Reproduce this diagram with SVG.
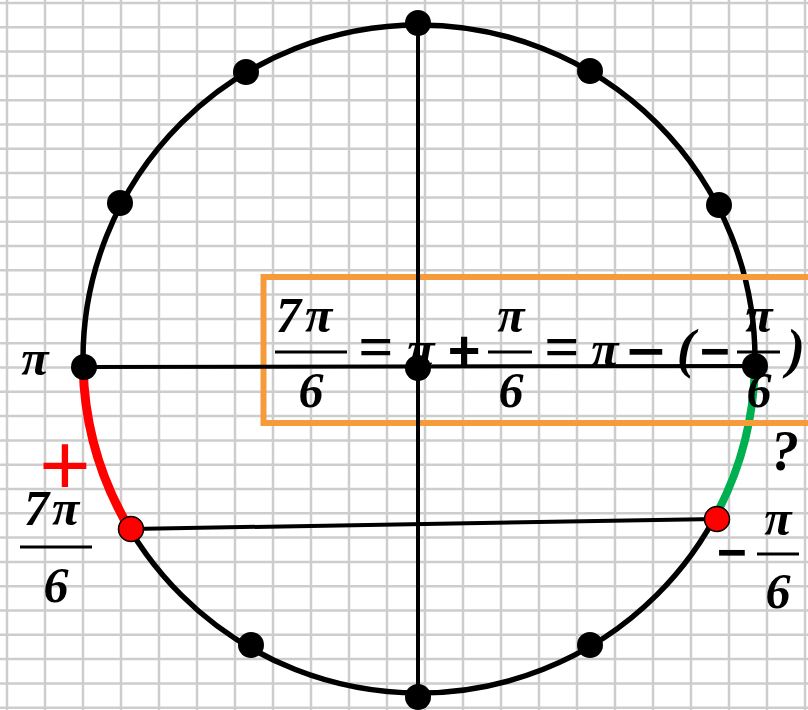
<svg xmlns="http://www.w3.org/2000/svg" width="808" height="710" viewBox="0 0 808 710">
<style>
.grid line{stroke:#cdcdcd;stroke-width:2.5}
.circ{fill:none;stroke:#000;stroke-width:5.5}
.ax{stroke:#000;stroke-width:4;fill:none}
.dot{fill:#000}
.rdot{fill:#ff0000;stroke:#000;stroke-width:1.5}
.m{font-family:"Liberation Serif","Times New Roman",serif;font-weight:bold;font-style:italic;font-size:50px;fill:#000}
.c{text-anchor:middle}
.op{font-style:normal;font-size:60px}
.sop{font-family:"Liberation Sans",Arial,sans-serif;font-style:normal;font-weight:bold;font-size:52px}
.bar{stroke:#000;stroke-width:3}
</style>
<rect width="808" height="710" fill="#ffffff"/>
<g id="grid" class="grid">
<line x1="7" y1="0" x2="7" y2="710"/><line x1="45" y1="0" x2="45" y2="710"/><line x1="83" y1="0" x2="83" y2="710"/><line x1="121" y1="0" x2="121" y2="710"/><line x1="159" y1="0" x2="159" y2="710"/><line x1="197" y1="0" x2="197" y2="710"/><line x1="235" y1="0" x2="235" y2="710"/><line x1="273" y1="0" x2="273" y2="710"/><line x1="311" y1="0" x2="311" y2="710"/><line x1="349" y1="0" x2="349" y2="710"/><line x1="387" y1="0" x2="387" y2="710"/><line x1="425" y1="0" x2="425" y2="710"/><line x1="463" y1="0" x2="463" y2="710"/><line x1="501" y1="0" x2="501" y2="710"/><line x1="539" y1="0" x2="539" y2="710"/><line x1="577" y1="0" x2="577" y2="710"/><line x1="615" y1="0" x2="615" y2="710"/><line x1="653" y1="0" x2="653" y2="710"/><line x1="691" y1="0" x2="691" y2="710"/><line x1="729" y1="0" x2="729" y2="710"/><line x1="767" y1="0" x2="767" y2="710"/><line x1="805" y1="0" x2="805" y2="710"/>
<line x1="0" y1="3" x2="808" y2="3"/><line x1="0" y1="27.3" x2="808" y2="27.3"/><line x1="0" y1="51.6" x2="808" y2="51.6"/><line x1="0" y1="75.9" x2="808" y2="75.9"/><line x1="0" y1="100.2" x2="808" y2="100.2"/><line x1="0" y1="124.5" x2="808" y2="124.5"/><line x1="0" y1="148.8" x2="808" y2="148.8"/><line x1="0" y1="173.1" x2="808" y2="173.1"/><line x1="0" y1="197.4" x2="808" y2="197.4"/><line x1="0" y1="221.7" x2="808" y2="221.7"/><line x1="0" y1="246" x2="808" y2="246"/><line x1="0" y1="270.3" x2="808" y2="270.3"/><line x1="0" y1="294.6" x2="808" y2="294.6"/><line x1="0" y1="318.9" x2="808" y2="318.9"/><line x1="0" y1="343.2" x2="808" y2="343.2"/><line x1="0" y1="367.5" x2="808" y2="367.5"/><line x1="0" y1="391.8" x2="808" y2="391.8"/><line x1="0" y1="416.1" x2="808" y2="416.1"/><line x1="0" y1="440.4" x2="808" y2="440.4"/><line x1="0" y1="464.7" x2="808" y2="464.7"/><line x1="0" y1="489" x2="808" y2="489"/><line x1="0" y1="513.3" x2="808" y2="513.3"/><line x1="0" y1="537.6" x2="808" y2="537.6"/><line x1="0" y1="561.9" x2="808" y2="561.9"/><line x1="0" y1="586.2" x2="808" y2="586.2"/><line x1="0" y1="610.5" x2="808" y2="610.5"/><line x1="0" y1="634.8" x2="808" y2="634.8"/><line x1="0" y1="659.1" x2="808" y2="659.1"/><line x1="0" y1="683.4" x2="808" y2="683.4"/><line x1="0" y1="707.7" x2="808" y2="707.7"/>
</g>
<g id="unit-circle">
<ellipse class="circ" cx="419" cy="359" rx="336" ry="334"/>
</g>
<g id="arcs">
<path d="M 83.1 367 A 336 334 0 0 0 130.1 529.6" fill="none" stroke="#ff0000" stroke-width="9"/>
<path d="M 754.9 366 A 336 334 0 0 1 714.4 518.1" fill="none" stroke="#00b050" stroke-width="8"/>
</g>
<g id="formula-box">
<rect x="263.5" y="277" width="560" height="146" fill="none" stroke="#f79b3a" stroke-width="6"/>
</g>
<g id="formula" class="m">
<text y="332"><tspan x="276">7</tspan><tspan x="305">π</tspan></text>
<text class="c" x="311" y="407">6</text>
<line class="bar" x1="275" y1="352" x2="347" y2="352"/>
<text class="c op" x="376" y="367" style="font-size:62px">=</text>
<text class="c" x="421" y="366">π</text>
<text class="c sop" x="464" y="369" style="font-size:56px">+</text>
<text class="c" x="511" y="332">π</text>
<text class="c" x="511" y="407">6</text>
<line class="bar" x1="488" y1="352" x2="532" y2="352"/>
<text class="c op" x="562" y="367" style="font-size:62px">=</text>
<text class="c" x="605" y="366">π</text>
<text class="c sop" x="646" y="369" textLength="38" lengthAdjust="spacingAndGlyphs">−</text>
<text class="c" x="686" y="367" style="font-size:55px">(</text>
<text class="c sop" x="715" y="369" textLength="30" lengthAdjust="spacingAndGlyphs">−</text>
<text class="c" x="759" y="332">π</text>
<text class="c" x="759" y="407">6</text>
<line class="bar" x1="737" y1="352" x2="780" y2="352"/>
<text class="c" x="796" y="367" style="font-size:55px">)</text>
</g>
<g id="connectors">
<line class="ax" x1="418" y1="23" x2="418" y2="697"/>
<line class="ax" x1="84" y1="367" x2="755" y2="366"/>
<line class="ax" x1="131" y1="529" x2="716" y2="519"/>
</g>
<g id="p-top"><circle class="dot" cx="418" cy="23" r="13"/></g>
<g id="p-60"><circle class="dot" cx="590" cy="71" r="13"/></g>
<g id="p-30"><circle class="dot" cx="719" cy="205" r="13"/></g>
<g id="p-0"><circle class="dot" cx="755" cy="366" r="13"/></g>
<g id="p-center"><circle class="dot" cx="418" cy="368" r="13"/></g>
<g id="p-120"><circle class="dot" cx="246" cy="72" r="13"/></g>
<g id="p-150"><circle class="dot" cx="120" cy="203" r="13"/></g>
<g id="p-pi"><circle class="dot" cx="84" cy="367" r="13"/></g>
<g id="p-240"><circle class="dot" cx="251" cy="645" r="13"/></g>
<g id="p-300"><circle class="dot" cx="590" cy="645" r="13"/></g>
<g id="p-bottom"><circle class="dot" cx="418" cy="697" r="13"/></g>
<g id="p-7pi6"><circle class="rdot" cx="131" cy="529" r="12.5"/></g>
<g id="p-minus-pi6"><circle class="rdot" cx="717" cy="519" r="12.5"/></g>
<g id="labels" class="m">
<text class="c" x="35" y="375">π</text>
<text x="65" y="495" text-anchor="middle" style="font-family:'Liberation Sans',Arial,sans-serif;font-style:normal;font-weight:normal;font-size:88px;fill:#ff0000">+</text>
<text y="525"><tspan x="24">7</tspan><tspan x="52">π</tspan></text>
<line class="bar" x1="20" y1="547" x2="92" y2="547"/>
<text class="c" x="56" y="602">6</text>
<text class="c" x="785" y="470" style="font-size:56px">?</text>
<text class="c sop" x="732" y="570" textLength="30" lengthAdjust="spacingAndGlyphs">−</text>
<text class="c" x="778" y="535">π</text>
<line class="bar" x1="757" y1="554" x2="799" y2="554"/>
<text class="c" x="778" y="608">6</text>
</g>
</svg>
